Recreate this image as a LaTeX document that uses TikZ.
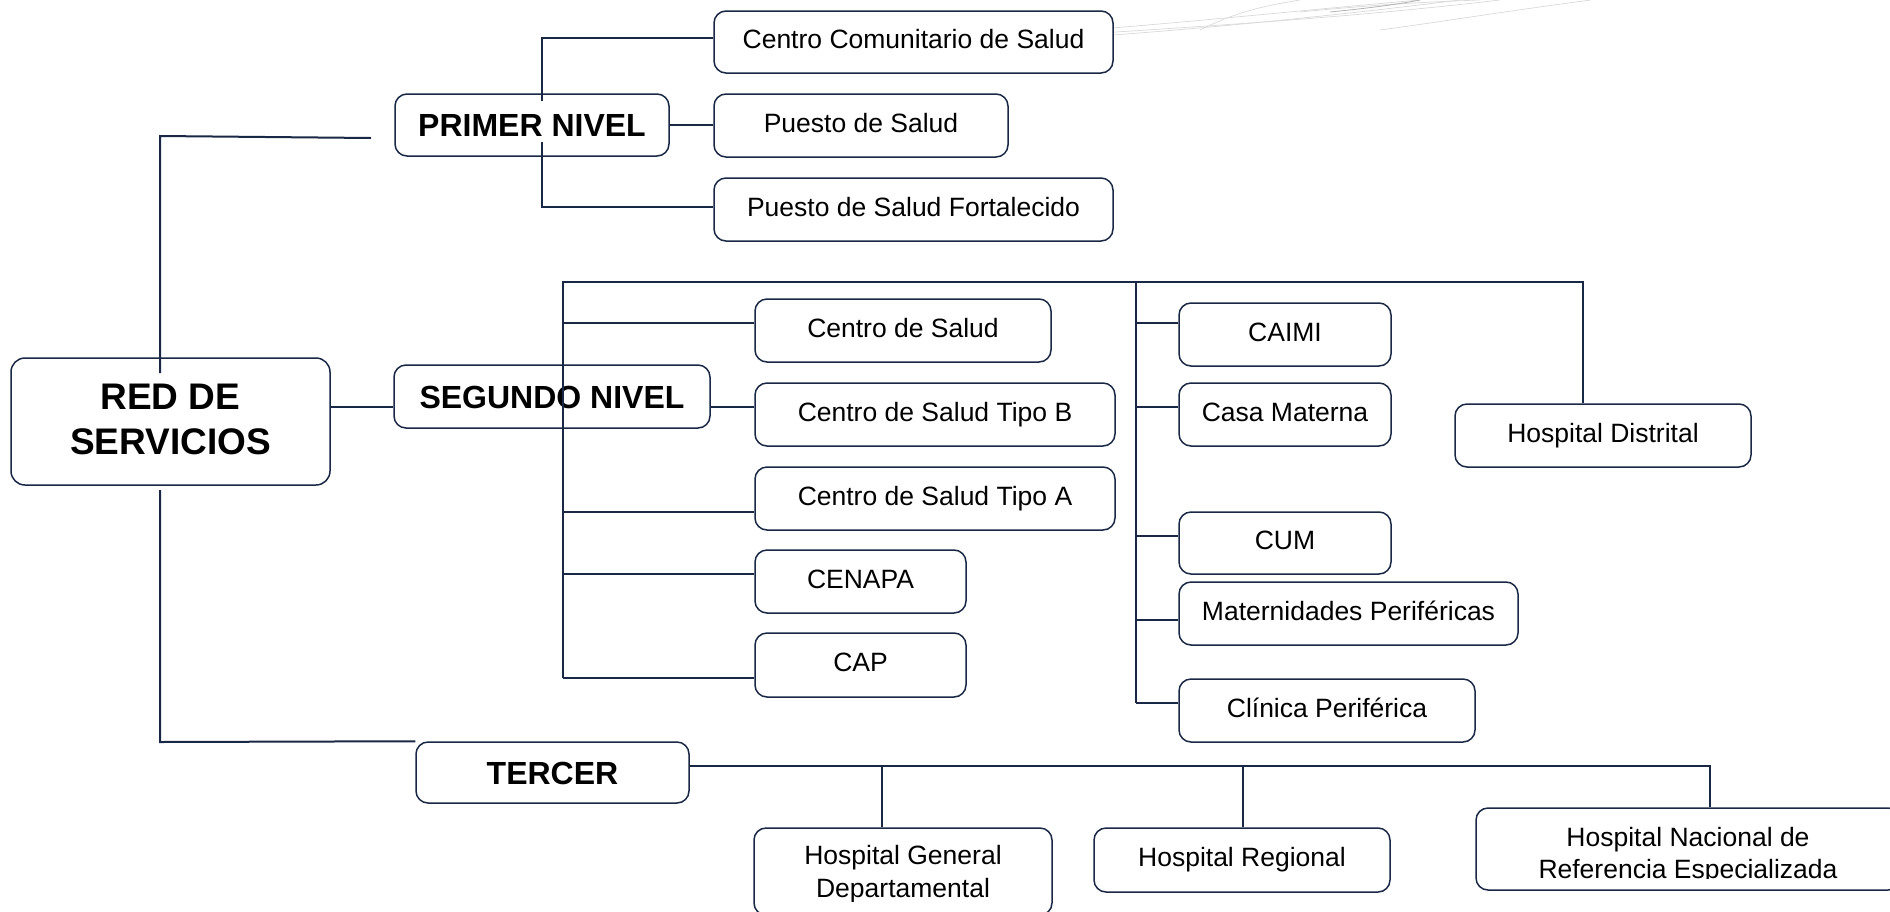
\documentclass[tikz,border=0pt]{standalone}
\usepackage{fontspec}
\setmainfont{Liberation Sans}
\definecolor{navy}{RGB}{25,40,68}
\begin{document}
\begin{tikzpicture}[x=1pt,y=-1pt,
  box/.style={draw=navy, line width=1.5pt, rounded corners=12pt, fill=white, inner sep=0pt, align=center,
              font=\fontsize{26.5}{33}\selectfont, text height=19pt, text depth=5.5pt},
  lvl/.style={box, font=\bfseries\fontsize{32}{38}\selectfont, text height=23pt, text depth=0pt},
  link/.style={draw=navy, line width=2pt},
  deco/.style={draw=black!15, line width=0.7pt}]
\useasboundingbox (0,0) rectangle (1890,911);

% faint decorative swirl at the top
\draw[deco] (965,38) .. controls (1120,30) and (1280,12) .. (1420,0);
\draw[deco] (1010,39) .. controls (1170,28) and (1330,20) .. (1500,0);
\draw[deco] (1100,36) .. controls (1250,25) and (1380,10) .. (1460,0);
\draw[deco] (1380,30) .. controls (1440,22) and (1500,12) .. (1591,0);
\draw[deco] (1300,12) .. controls (1360,6) and (1420,2) .. (1480,0);
\draw[draw=black!30, line width=0.8pt] (1330,12) .. controls (1370,8) and (1400,4) .. (1420,0);
\draw[deco] (1200,30) .. controls (1240,10) and (1270,5) .. (1300,0);

% nodes
\node[draw=navy, line width=1.5pt, rounded corners=14pt, fill=white, inner sep=0pt, align=center,
      minimum width=319pt, minimum height=127pt,
      font=\bfseries\fontsize{37}{44.6}\selectfont]
      (red) at (170.5,421.5) {RED DE\\SERVICIOS\rule[-5pt]{0pt}{5pt}};
\node[box, minimum width=274pt, minimum height=62pt] (primer) at (532,125) {};
\node[box, minimum width=399pt, minimum height=62pt] (ccs) at (913.5,42) {Centro Comunitario de Salud};
\node[box, minimum width=294pt, minimum height=63pt] (ps) at (861,125.5) {Puesto de Salud};
\node[box, minimum width=399pt, minimum height=63pt] (psf) at (913.5,209.5) {Puesto de Salud Fortalecido};
\node[lvl, minimum width=316pt, minimum height=63pt] (segundo) at (552,396.5) {SEGUNDO NIVEL};
\node[box, minimum width=296pt, minimum height=63pt] (cs) at (903,330.5) {Centro de Salud};
\node[box, minimum width=360pt, minimum height=63pt] (csb) at (935,414.5) {Centro de Salud Tipo B};
\node[box, minimum width=360pt, minimum height=63pt] (csa) at (935,498.5) {Centro de Salud Tipo A};
\node[box, minimum width=211pt, minimum height=63pt] (cenapa) at (860.5,581.5) {CENAPA};
\node[box, minimum width=211pt, minimum height=64pt] (cap) at (860.5,665) {CAP};
\node[box, minimum width=212pt, minimum height=63pt] (caimi) at (1285,334.5) {CAIMI};
\node[box, minimum width=212pt, minimum height=63pt] (casa) at (1285,414.5) {Casa Materna};
\node[box, minimum width=296pt, minimum height=63pt] (hd) at (1603,435.5) {Hospital Distrital};
\node[box, minimum width=212pt, minimum height=62pt] (cum) at (1285,543) {CUM};
\node[box, minimum width=339pt, minimum height=63pt] (mat) at (1348.5,613.5) {Maternidades Periféricas};
\node[box, minimum width=296pt, minimum height=63pt] (clin) at (1327,710.5) {Clínica Periférica};
\node[lvl, minimum width=273pt, minimum height=61pt] (tercer) at (552.5,772.5) {TERCER};
\node[box, minimum width=298pt, minimum height=87pt] (hgd) at (903,871.5) {};
\node[box, minimum width=296pt, minimum height=64pt] (hr) at (1242,860) {Hospital Regional};
\node[box, minimum width=424pt, minimum height=82pt] (hn) at (1688,849) {};

\begin{scope}
  \clip (754,828) rectangle (1052,901.5);
  \node[inner sep=0pt, align=center, font=\fontsize{26.5}{33}\selectfont, anchor=north]
       (hgdtext) at (903,845.5) {Hospital General\\Departamental};
\end{scope}
\begin{scope}
  \clip (1476,808) rectangle (1890,878.3);
  \node[inner sep=0pt, align=center, font=\fontsize{26.5}{32.5}\selectfont, anchor=north]
       (hntext) at (1688,826.7) {Hospital Nacional de\\Referencia Especializada};
\end{scope}

% main trunk
\coordinate (trunkEnd) at (371,138);
\coordinate (trunkCorner) at (160,136);
\coordinate (trunkIn) at (160,373);
\coordinate (trunkLow) at (160,490);
\coordinate (trunkBend) at (160,742);
\draw[link] (trunkEnd) -- (trunkCorner) -- (trunkIn);
\draw[link] (trunkLow) -- (trunkBend) -- (tercer.north west);
\coordinate (ysr) at (0,407);
\draw[link] (red.east |- ysr) -- (segundo.west |- ysr);

% primer nivel
\coordinate (pv1) at (542,38);
\coordinate (pv2) at (542,207);
\draw[link] (ccs.west |- pv1) -- (pv1) -- (pv2) -- (psf.west |- pv2);
\draw[link] (primer.east) -- (ps.west |- primer.east);
\node[inner sep=0pt, inner xsep=3pt, fill=white, font=\bfseries\fontsize{32}{38}\selectfont,
      text height=36pt, text depth=5pt, anchor=base] (primertext) at (532,136.5) {PRIMER NIVEL};

% segundo nivel
\coordinate (sTop) at (563,282);
\coordinate (sBot) at (563,678);
\coordinate (mTop) at (1136,282);
\coordinate (mBot) at (1136,703);
\coordinate (hTop) at (1583,282);
\draw[link] (sBot) -- (sTop) -- (hTop) -- (hTop |- hd.north);
\draw[link] (mTop) -- (mBot);
\coordinate (b1) at (563,323);
\coordinate (b2) at (710,407);
\coordinate (b3) at (563,512);
\coordinate (b4) at (563,574);
\coordinate (m1) at (1136,323);
\coordinate (m2) at (1136,407);
\coordinate (m3) at (1136,536);
\coordinate (m4) at (1136,620);
\draw[link] (b1) -- (cs.west |- b1);
\draw[link] (b2) -- (csb.west |- b2);
\draw[link] (b3) -- (csa.west |- b3);
\draw[link] (b4) -- (cenapa.west |- b4);
\draw[link] (sBot) -- (cap.west |- sBot);
\draw[link] (m1) -- (caimi.west |- m1);
\draw[link] (m2) -- (casa.west |- m2);
\draw[link] (m3) -- (cum.west |- m3);
\draw[link] (m4) -- (mat.west |- m4);
\draw[link] (mBot) -- (clin.west |- mBot);

% tercer nivel
\coordinate (tg) at (882,766);
\coordinate (tr) at (1243,766);
\coordinate (tn) at (1710,766);
\draw[link] (tercer.east |- tn) -- (tn) -- (tn |- hn.north);
\draw[link] (tg) -- (tg |- hgd.north);
\draw[link] (tr) -- (tr |- hr.north);
\end{tikzpicture}
\end{document}
